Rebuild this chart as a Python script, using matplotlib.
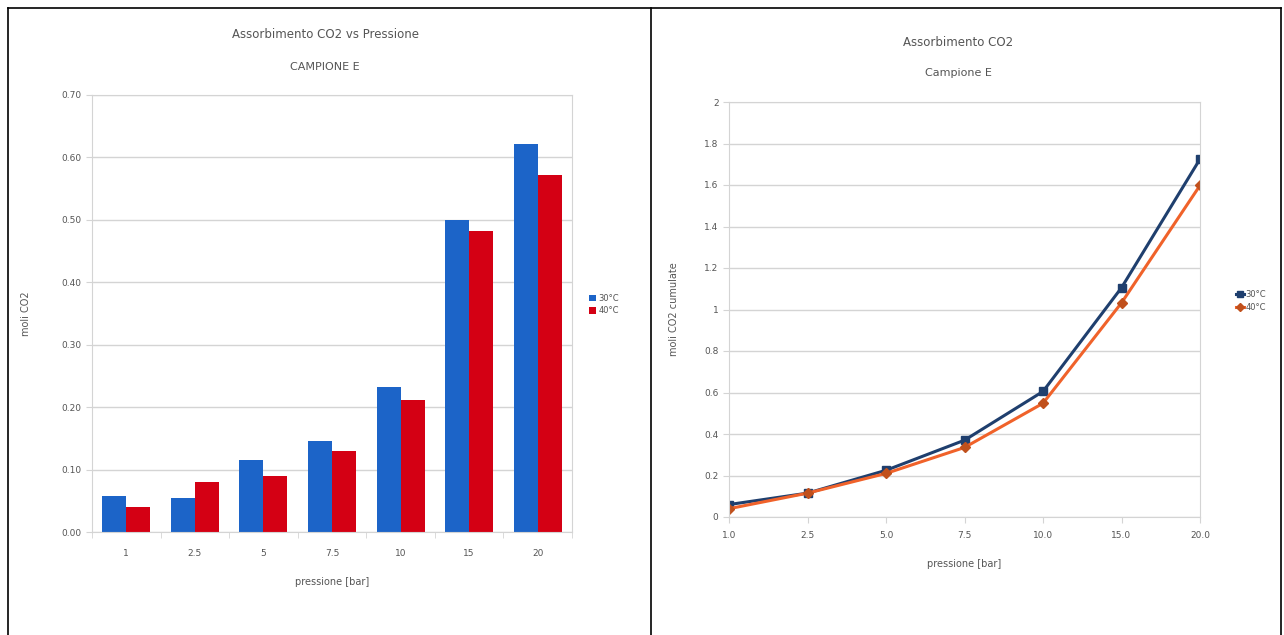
import matplotlib.pyplot as plt
from matplotlib.lines import Line2D
import numpy as np

pressioni = ["1", "2.5", "5", "7.5", "10", "15", "20"]
pressioni_cum = ["1.0", "2.5", "5.0", "7.5", "10.0", "15.0", "20.0"]
moli_30 = [0.058, 0.055, 0.115, 0.145, 0.232, 0.500, 0.622]
moli_40 = [0.040, 0.080, 0.090, 0.130, 0.212, 0.482, 0.572]
cum_30 = [0.060, 0.115, 0.225, 0.370, 0.605, 1.105, 1.725]
cum_40 = [0.040, 0.115, 0.210, 0.335, 0.548, 1.032, 1.598]

testo = "#555555"
griglia = "#d4d4d4"

fig = plt.figure(figsize=(12.84, 6.35), dpi=100)
fig.patch.set_facecolor("white")

# cornice della tabella
for xs, ys in [([8, 1281], [8, 8]), ([8, 8], [8, 635]), ([1281, 1281], [8, 635]), ([651, 651], [8, 635])]:
    fig.add_artist(Line2D([x / 1284 for x in xs], [1 - y / 635 for y in ys], color="black", lw=1.2))

# grafico a barre
ax1 = fig.add_axes([92 / 1284, 1 - 532 / 635, 480 / 1284, 437 / 635])
x = np.arange(len(pressioni))
w = 0.35
ax1.bar(x - w / 2, moli_30, w, color="#1c64c8", label="30°C")
ax1.bar(x + w / 2, moli_40, w, color="#d40014", label="40°C")
ax1.set_xlim(-0.5, len(pressioni) - 0.5)
ax1.set_ylim(0, 0.70)
ax1.set_yticks(np.arange(0, 0.71, 0.10))
ax1.set_yticklabels(["%.2f" % v for v in np.arange(0, 0.71, 0.10)])
ax1.set_xticks(x)
ax1.set_xticklabels(pressioni)
ax1.set_xticks(np.arange(-0.5, len(pressioni)), minor=True)
ax1.tick_params(axis="x", which="major", length=0, pad=12, labelsize=6.5, colors=testo)
ax1.tick_params(axis="x", which="minor", length=4, color=griglia)
ax1.tick_params(axis="y", length=4, color=griglia, labelsize=6.5, colors=testo)
ax1.yaxis.grid(True, color=griglia, lw=1)
ax1.set_axisbelow(True)
for s in ax1.spines.values():
    s.set_color(griglia)
ax1.set_xlabel("pressione [bar]", fontsize=7, color=testo, labelpad=14)
ax1.set_ylabel("moli CO2", fontsize=7, color=testo, labelpad=22)
fig.text(325 / 1284, 1 - 34 / 635, "Assorbimento CO2 vs Pressione", ha="center", va="center", fontsize=8.5, color=testo)
fig.text(325 / 1284, 1 - 67 / 635, "CAMPIONE E", ha="center", va="center", fontsize=8, color=testo)
ax1.legend(loc="center left", bbox_to_anchor=(1.02, 0.52), frameon=False, fontsize=6, labelcolor=testo,
           handlelength=0.8, handleheight=0.8, handletextpad=0.3, labelspacing=0.4)

# grafico cumulato
ax2 = fig.add_axes([729 / 1284, 1 - 517 / 635, 471 / 1284, 415 / 635])
xc = np.arange(len(pressioni_cum))
ax2.plot(xc, cum_30, color="#1f3f6e", lw=2.2, marker="s", ms=6, label="30°C")
ax2.plot(xc, cum_40, color="#f0622a", lw=2.2, marker="D", ms=5, mfc="#c0501c", mec="#c0501c", label="40°C")
ax2.set_xlim(0, len(pressioni_cum) - 1)
ax2.set_ylim(0, 2)
ax2.set_yticks(np.arange(0, 2.01, 0.2))
ax2.set_yticklabels(["0", "0.2", "0.4", "0.6", "0.8", "1", "1.2", "1.4", "1.6", "1.8", "2"])
ax2.set_xticks(xc)
ax2.set_xticklabels(pressioni_cum)
ax2.tick_params(axis="x", length=4, color=griglia, labelsize=6.5, colors=testo, pad=6)
ax2.tick_params(axis="y", length=4, color=griglia, labelsize=6.5, colors=testo)
ax2.yaxis.grid(True, color=griglia, lw=1)
ax2.set_axisbelow(True)
for s in ax2.spines.values():
    s.set_color(griglia)
ax2.set_xlabel("pressione [bar]", fontsize=7, color=testo, labelpad=14)
ax2.set_ylabel("moli CO2 cumulate", fontsize=7, color=testo, labelpad=18)
fig.text(958 / 1284, 1 - 42 / 635, "Assorbimento CO2", ha="center", va="center", fontsize=8.5, color=testo)
fig.text(958 / 1284, 1 - 73 / 635, "Campione E", ha="center", va="center", fontsize=8, color=testo)
ax2.legend(loc="center left", bbox_to_anchor=(1.06, 0.52), frameon=False, fontsize=6, labelcolor=testo,
           handlelength=1.0, handletextpad=0.2, labelspacing=0.5, markerscale=0.8)

fig.savefig("out.png", dpi=100)
